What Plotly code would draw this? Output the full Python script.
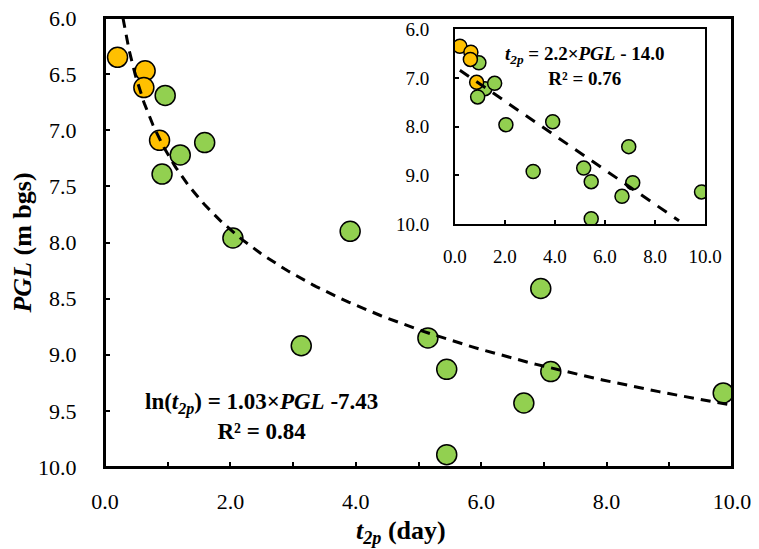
import numpy as np
import plotly.graph_objects as go

orange_t2p = [0.20, 0.64, 0.62, 0.87]
orange_pgl = [6.35, 6.47, 6.62, 7.09]

green_t2p = [0.96, 1.20, 1.59, 0.91, 2.04, 3.13, 3.91, 5.15, 5.45, 5.45, 6.95, 7.11, 6.68, 9.86]
green_pgl = [6.69, 7.22, 7.11, 7.39, 7.96, 8.92, 7.90, 8.85, 9.13, 9.89, 8.41, 9.15, 9.43, 9.34]

# trend lines
main_fit = (1.03, -7.43)          # ln(t2p) = a*PGL + b
main_fit_pgl = (6.0, 9.45)        # extent of the drawn curve
inset_fit = (0.353, 6.77)         # PGL = m*t2p + c, as drawn in the inset
inset_fit_t2p = (0.2, 8.96)

serif = "Liberation Serif"
orange = "#FFC000"
green = "#92D050"

pgl_curve = np.linspace(main_fit_pgl[0], main_fit_pgl[1], 200)
t_curve = np.exp(main_fit[0] * pgl_curve + main_fit[1])
t_line = np.array(inset_fit_t2p)
pgl_line = inset_fit[0] * t_line + inset_fit[1]

fig = go.Figure()

# main panel
fig.add_trace(go.Scatter(x=green_t2p, y=green_pgl, mode='markers',
                         marker=dict(size=20, color=green, line=dict(color='black', width=1.5)),
                         xaxis='x', yaxis='y', showlegend=False))
fig.add_trace(go.Scatter(x=orange_t2p, y=orange_pgl, mode='markers',
                         marker=dict(size=20, color=orange, line=dict(color='black', width=1.5)),
                         xaxis='x', yaxis='y', showlegend=False))
fig.add_trace(go.Scatter(x=t_curve, y=pgl_curve, mode='lines',
                         line=dict(color='black', width=3, dash='10px,7px'),
                         xaxis='x', yaxis='y', showlegend=False))

# inset panel
fig.add_trace(go.Scatter(x=green_t2p, y=green_pgl, mode='markers',
                         marker=dict(size=14, color=green, line=dict(color='black', width=1.5)),
                         xaxis='x2', yaxis='y2', showlegend=False))
fig.add_trace(go.Scatter(x=orange_t2p, y=orange_pgl, mode='markers',
                         marker=dict(size=14, color=orange, line=dict(color='black', width=1.5)),
                         xaxis='x2', yaxis='y2', showlegend=False))
fig.add_trace(go.Scatter(x=t_line, y=pgl_line, mode='lines',
                         line=dict(color='black', width=3, dash='11px,9px'),
                         xaxis='x2', yaxis='y2', showlegend=False))

axis_common = dict(showgrid=False, zeroline=False, showline=True, linecolor='black',
                   mirror=True, ticks='inside', tickcolor='black', tickformat='.1f',
                   automargin=False, ticklabeloverflow='allow')

# page body adds an 8px margin, so the figure is shrunk by that much
fig.update_layout(
    width=751, height=541,
    margin=dict(l=97, r=27, t=10, b=82),
    paper_bgcolor='white', plot_bgcolor='white',
    font=dict(family=serif, color='black'),
    xaxis=dict(axis_common, range=[0, 10], tick0=0, dtick=2, ticklen=5, linewidth=2,
               tickwidth=2, ticklabelstandoff=14, tickfont=dict(size=22),
               minor=dict(dtick=1, ticks='inside', ticklen=5, tickwidth=2, tickcolor='black'),
               domain=[0, 1]),
    yaxis=dict(axis_common, range=[10, 6], tick0=6, dtick=0.5, ticklen=5, linewidth=2,
               tickwidth=2, ticklabelstandoff=22, tickfont=dict(size=22),
               title=dict(text="<b><i>PGL</i> (m bgs)</b>", font=dict(size=26), standoff=4),
               domain=[0, 1]),
    xaxis2=dict(axis_common, range=[0, 10], tick0=0, dtick=2, ticklen=4, linewidth=1.5,
                tickwidth=1.5, ticklabelstandoff=14, tickfont=dict(size=19),
                domain=[0.558, 0.957], anchor='y2'),
    yaxis2=dict(axis_common, range=[10, 6], tick0=6, dtick=1, ticklen=4, linewidth=1.5,
                tickwidth=1.5, ticklabelstandoff=20, tickfont=dict(size=19),
                domain=[0.541, 0.975], anchor='x2'),
)

# frame around the main panel
fig.add_shape(type='rect', xref='paper', yref='paper', x0=0, y0=0, x1=1, y1=1,
              line=dict(color='black', width=2), layer='above')

fig.add_annotation(x=0.472, y=-0.145, xref='paper', yref='paper', showarrow=False,
                   yanchor='middle', text="<b><i>t<sub>2p</sub></i> (day)</b>",
                   font=dict(size=26, family=serif, color='black'))
fig.add_annotation(x=2.5, y=9.55, xref='x', yref='y', showarrow=False,
                   text="<b>ln(<i>t<sub>2p</sub></i>) = 1.03×<i>PGL</i> -7.43<br>R² = 0.84</b>",
                   font=dict(size=23, family=serif, color='black'), align='center')
fig.add_annotation(x=5.2, y=6.76, xref='x2', yref='y2', showarrow=False,
                   text="<b><i>t<sub>2p</sub></i> = 2.2×<i>PGL</i> - 14.0<br>R² = 0.76</b>",
                   font=dict(size=19, family=serif, color='black'), align='center')

fig.write_html("out.html")
